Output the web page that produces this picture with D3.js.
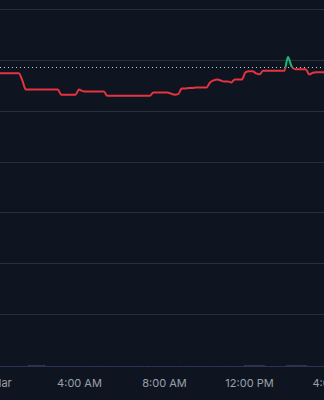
<!DOCTYPE html>
<html>
<head>
<meta charset="utf-8">
<script src="https://cdn.jsdelivr.net/npm/d3@7"></script>
<style>
    html, body { margin: 0; padding: 0; background: #0f1520; overflow: hidden; }
    #priceChart { width: 324px; height: 400px; }
</style>
</head>
<body>
<div id="priceChart"></div>
<script>
// 10 minute samples starting 12 Mar 00:00
var startTime = new Date(2024, 2, 12, 0, 0);
var stepMinutes = 10;
var prices = [
    99.87, 99.87, 99.87, 99.87, 99.87, 99.87, 99.87, 99.87, 99.80, 99.71,
    99.71, 99.71, 99.71, 99.71, 99.71, 99.71, 99.71, 99.71, 99.71, 99.66,
    99.66, 99.66, 99.66, 99.66, 99.71, 99.695, 99.69, 99.69, 99.69, 99.69,
    99.69, 99.69, 99.65, 99.65, 99.65, 99.65, 99.65, 99.65, 99.65, 99.65,
    99.65, 99.65, 99.65, 99.65, 99.65, 99.68, 99.68, 99.68, 99.68, 99.68,
    99.67, 99.66, 99.665, 99.72, 99.72, 99.725, 99.725, 99.73, 99.73, 99.73,
    99.73, 99.78, 99.80, 99.81, 99.80, 99.79, 99.79, 99.78, 99.81, 99.81,
    99.81, 99.88, 99.89, 99.89, 99.87, 99.86, 99.895, 99.895, 99.895, 99.895,
    99.895, 99.895, 99.895, 100.03, 99.94, 99.91, 99.91, 99.91, 99.91, 99.86,
    99.875, 99.88, 99.88, 99.88, 99.88, 99.88
];
var volumes = [
    1, 1, 1, 1, 1, 1, 1, 1, 1, 1,
    2, 2, 2, 2, 2, 1, 1, 1, 1, 1,
    1, 1, 1, 1, 1, 1, 1, 1, 1, 1,
    1, 1, 1, 1, 1, 1, 1, 1, 1, 1,
    1, 1, 1, 1, 1, 1, 1, 1, 1, 1,
    1, 1, 1, 1, 1, 1, 1, 1, 1, 1,
    1, 1, 1, 1, 1, 1, 1, 1, 1, 1,
    1, 2, 2, 2, 2, 2, 2, 1, 1, 1,
    1, 1, 1, 2, 2, 2, 2, 2, 2, 1,
    1, 1, 1, 1, 1, 1
];
var previousClose = 99.93;
var priceTicks = [97.5, 98.0, 98.5, 99.0, 99.5, 100.0, 100.5];

function drawPriceChart() {
    const width = 324;
    const height = 400;

    var data = prices.map((p, i) => ({
        time: new Date(startTime.getTime() + i * stepMinutes * 60000),
        price: p,
        volume: volumes[i]
    }));

    var x = d3.scaleTime()
        .domain([startTime, new Date(2024, 2, 12, 16, 0)])
        .range([-6, 334]);

    var y = d3.scaleLinear()
        .domain([97.0, 100.5])
        .range([364.9, 9.3]);

    var v = d3.scaleLinear()
        .domain([0, 12])
        .range([367, 355]);

    var format = d => d.getHours() === 0 ? d3.timeFormat("%-d %b")(d) : d3.timeFormat("%-I:%M %p")(d);

    const svg = d3.select("#priceChart").append("svg")
        .attr("width", width)
        .attr("height", height)
        .attr("viewBox", [0, 0, width, height]);

    svg.append("rect")
        .attr("width", width)
        .attr("height", height)
        .attr("fill", "#0f1520");

    // grid
    svg.append("g")
        .attr("stroke", "#2a303b")
        .attr("stroke-width", 1)
        .selectAll("line")
        .data(priceTicks)
        .join("line")
        .attr("x1", 0)
        .attr("x2", width)
        .attr("y1", d => Math.round(y(d)) + 0.5)
        .attr("y2", d => Math.round(y(d)) + 0.5);

    // volume
    var barWidth = x(new Date(startTime.getTime() + stepMinutes * 60000)) - x(startTime);
    svg.append("g")
        .attr("fill", "#2c3553")
        .selectAll("rect")
        .data(data)
        .join("rect")
        .attr("x", d => x(d.time) - barWidth / 2)
        .attr("y", d => v(d.volume))
        .attr("width", barWidth)
        .attr("height", d => v(0) - v(d.volume));

    // previous close
    svg.append("line")
        .attr("x1", 0)
        .attr("x2", width)
        .attr("y1", Math.round(y(previousClose)) + 0.5)
        .attr("y2", Math.round(y(previousClose)) + 0.5)
        .attr("stroke", "#c9ced6")
        .attr("stroke-width", 1)
        .attr("stroke-dasharray", "1,3");

    var line = d3.line()
        .curve(d3.curveMonotoneX)
        .x(d => x(d.time))
        .y(d => y(d.price));

    var defs = svg.append("defs");
    defs.append("clipPath")
        .attr("id", "aboveClip")
        .append("rect")
        .attr("x", 0)
        .attr("y", 0)
        .attr("width", width)
        .attr("height", y(previousClose));
    defs.append("clipPath")
        .attr("id", "belowClip")
        .append("rect")
        .attr("x", 0)
        .attr("y", y(previousClose))
        .attr("width", width)
        .attr("height", height - y(previousClose));

    svg.append("path")
        .datum(data)
        .attr("clip-path", "url(#belowClip)")
        .attr("fill", "none")
        .attr("stroke", "#e5333f")
        .attr("stroke-width", 2)
        .attr("stroke-linejoin", "round")
        .attr("d", line);

    svg.append("path")
        .datum(data)
        .attr("clip-path", "url(#aboveClip)")
        .attr("fill", "none")
        .attr("stroke", "#18b97c")
        .attr("stroke-width", 2)
        .attr("stroke-linejoin", "round")
        .attr("d", line);

    // time axis
    svg.append("g")
        .attr("transform", "translate(0,376)")
        .call(d3.axisBottom(x).ticks(d3.timeHour.every(4)).tickFormat(format).tickSize(0))
        .call(g => g.select(".domain").remove())
        .call(g => g.selectAll("text")
            .attr("fill", "#9aa0aa")
            .attr("font-family", "Inter, sans-serif")
            .attr("font-size", 11)
            .attr("dy", "0.71em"));
}

drawPriceChart();
</script>
</body>
</html>
